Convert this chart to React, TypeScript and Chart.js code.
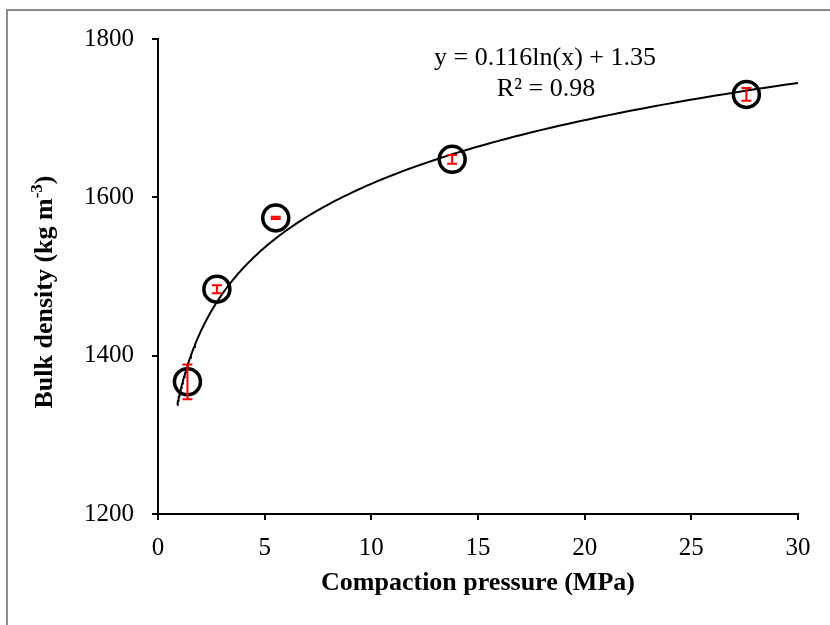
import React, { useEffect, useRef } from 'react';
import { Chart, registerables } from 'chart.js';

Chart.register(...registerables);

// ---- data ----
const PRESSURE_MPA = [1.38, 2.76, 5.52, 13.79, 27.58];
const BULK_DENSITY = [1367, 1484, 1574, 1648, 1730];
const DENSITY_ERROR = [22, 5, 1.5, 5.5, 8];
const X_TICKS = [0, 5, 10, 15, 20, 25, 30];
const Y_TICKS = [1200, 1400, 1600, 1800];
// logarithmic trendline shown on the chart: y = 0.116 ln(x) + 1.35 (g cm-3)
const TREND_SLOPE = 116;
const TREND_INTERCEPT = 1350;
const TREND_X_START = 0.9;
const TREND_X_END = 30;
const EQUATION_LINES = ['y = 0.116ln(x) + 1.35', 'R\u00B2 = 0.98'];
const X_TITLE = 'Compaction pressure (MPa)';
const Y_TITLE_MAIN = 'Bulk density (kg m';
const Y_TITLE_SUP = '-3';
const Y_TITLE_END = ')';

const FONT = "'Liberation Serif', 'Times New Roman', serif";

export default function App() {
  const ref = useRef<HTMLCanvasElement>(null);

  useEffect(() => {
    if (!ref.current) return;
    const trend: { x: number; y: number }[] = [];
    const n = 150;
    for (let i = 0; i <= n; i++) {
      const x = TREND_X_START * Math.pow(TREND_X_END / TREND_X_START, i / n);
      trend.push({ x, y: TREND_INTERCEPT + TREND_SLOPE * Math.log(x) });
    }
    const points = PRESSURE_MPA.map((x, i) => ({ x, y: BULK_DENSITY[i] }));

    const errorBars = {
      id: 'errorBars',
      afterDatasetsDraw(chart: any) {
        const ctx = chart.ctx;
        const meta = chart.getDatasetMeta(1);
        const ys = chart.scales.y;
        ctx.save();
        ctx.strokeStyle = '#ff0000';
        ctx.lineWidth = 2;
        meta.data.forEach((pt: any, i: number) => {
          const x = pt.x;
          const y1 = ys.getPixelForValue(BULK_DENSITY[i] + DENSITY_ERROR[i]);
          const y2 = ys.getPixelForValue(BULK_DENSITY[i] - DENSITY_ERROR[i]);
          ctx.beginPath();
          ctx.moveTo(x, y1);
          ctx.lineTo(x, y2);
          ctx.moveTo(x - 5, y1);
          ctx.lineTo(x + 5, y1);
          ctx.moveTo(x - 5, y2);
          ctx.lineTo(x + 5, y2);
          ctx.stroke();
        });
        ctx.restore();
      },
    };

    const texts = {
      id: 'texts',
      afterDraw(chart: any) {
        const ctx = chart.ctx;
        ctx.save();
        // equation
        ctx.fillStyle = '#000';
        ctx.font = `26px ${FONT}`;
        ctx.textAlign = 'center';
        ctx.textBaseline = 'middle';
        ctx.fillText(EQUATION_LINES[0], 545, 58);
        ctx.fillText(EQUATION_LINES[1], 546, 89);
        // y title with superscript
        ctx.translate(43, 292);
        ctx.rotate(-Math.PI / 2);
        ctx.textAlign = 'left';
        ctx.textBaseline = 'alphabetic';
        const mainFont = `bold 26px ${FONT}`;
        const supFont = `bold 17px ${FONT}`;
        ctx.font = mainFont;
        const w1 = ctx.measureText(Y_TITLE_MAIN).width;
        const w3 = ctx.measureText(Y_TITLE_END).width;
        ctx.font = supFont;
        const w2 = ctx.measureText(Y_TITLE_SUP).width;
        const total = w1 + w2 + w3;
        let x = -total / 2;
        const base = 9;
        ctx.font = mainFont;
        ctx.fillText(Y_TITLE_MAIN, x, base);
        x += w1;
        ctx.font = supFont;
        ctx.fillText(Y_TITLE_SUP, x, base - 10);
        x += w2;
        ctx.font = mainFont;
        ctx.fillText(Y_TITLE_END, x, base);
        ctx.restore();
      },
    };

    const chart = new Chart(ref.current, {
      type: 'scatter',
      data: {
        datasets: [
          {
            type: 'line',
            data: trend,
            borderColor: '#000',
            borderWidth: 2,
            pointRadius: 0,
            tension: 0,
            fill: false,
          } as any,
          {
            data: points,
            pointStyle: 'circle',
            pointRadius: 13,
            pointHoverRadius: 13,
            pointBorderWidth: 3.5,
            borderColor: '#000',
            backgroundColor: 'rgba(0,0,0,0)',
            pointBackgroundColor: 'rgba(0,0,0,0)',
            pointBorderColor: '#000',
            showLine: false,
            clip: false,
          } as any,
        ],
      },
      options: {
        responsive: false,
        animation: false,
        events: [],
        layout: { padding: { left: 0, right: 32, top: 39, bottom: 0 } },
        plugins: { legend: { display: false }, tooltip: { enabled: false } },
        scales: {
          x: {
            type: 'linear',
            min: 0,
            max: 30,
            afterFit: (s: any) => {
              s.height = 111;
            },
            afterBuildTicks: (s: any) => {
              s.ticks = X_TICKS.map((v) => ({ value: v }));
            },
            ticks: {
              color: '#000',
              font: { family: FONT, size: 25 },
              padding: 13,
              maxRotation: 0,
              callback: (v: any) => String(v),
            },
            grid: {
              display: true,
              drawOnChartArea: false,
              drawTicks: true,
              tickLength: 6,
              color: '#000',
              lineWidth: 2,
            },
            border: { display: true, color: '#000', width: 2 },
            title: {
              display: true,
              text: X_TITLE,
              color: '#000',
              font: { family: FONT, size: 26, weight: 'bold' },
              padding: { top: 0, bottom: 26 },
            },
          },
          y: {
            type: 'linear',
            min: 1200,
            max: 1800,
            afterFit: (s: any) => {
              s.width = 158;
            },
            afterBuildTicks: (s: any) => {
              s.ticks = Y_TICKS.map((v) => ({ value: v }));
            },
            ticks: {
              color: '#000',
              font: { family: FONT, size: 25 },
              padding: 18,
              callback: (v: any) => String(v),
            },
            grid: {
              display: true,
              drawOnChartArea: false,
              drawTicks: true,
              tickLength: 6,
              color: '#000',
              lineWidth: 2,
            },
            border: { display: true, color: '#000', width: 2 },
            title: { display: false },
          },
        },
      } as any,
      plugins: [errorBars, texts],
    });
    return () => chart.destroy();
  }, []);

  return (
    <div style={{ position: 'absolute', left: 0, top: 0, width: 830, height: 625, overflow: 'hidden', background: '#fff' }}>
      <div
        style={{
          position: 'absolute',
          left: 6,
          top: 9,
          width: 824,
          height: 616,
          boxSizing: 'border-box',
          borderLeft: '2px solid #8c8c8c',
          borderTop: '2px solid #8c8c8c',
        }}
      />
      <canvas ref={ref} width={830} height={625} style={{ position: 'absolute', left: 0, top: 0 }} />
    </div>
  );
}
